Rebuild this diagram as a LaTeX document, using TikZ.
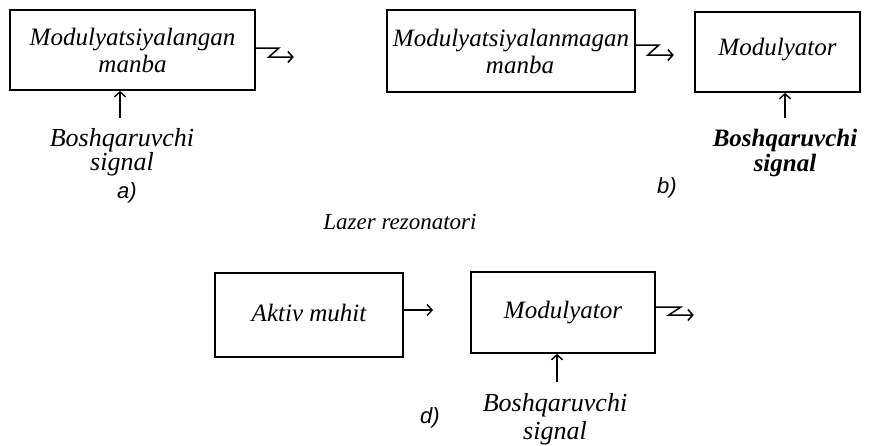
\documentclass[tikz,border=0pt]{standalone}
\usepackage{fontspec}
\setmainfont{Liberation Serif}
\newfontfamily\labfont{Liberation Sans}
\usetikzlibrary{arrows.meta}
\begin{document}
\begin{tikzpicture}[x=1pt,y=-1pt,
  box/.style={draw,line width=1.7pt,rectangle,inner sep=0pt,align=center,
    font=\fontsize{25}{27}\selectfont\itshape},
  txt/.style={inner sep=0pt,align=center,font=\fontsize{26}{24}\selectfont\itshape},
  lab/.style={inner sep=0pt,font=\fontsize{22}{24}\selectfont\labfont\itshape},
  arr/.style={line width=1.4pt,-{Straight Barb[length=5pt,width=11pt]}},
  zig/.style={line width=1.5pt,line join=miter,-{Straight Barb[length=5pt,width=11pt]}}]
\useasboundingbox (0,0) rectangle (882,445);
% a)
\node[box,minimum width=245pt,minimum height=80pt] (a) at (132.5,50) {Modulyatsiyalangan\\manba};
\draw[zig] ([yshift=2pt]a.east) -- ++(23,0) -- ++(-10,9) -- ++(25,0);
\node[txt] (sa) at (122,152) {Boshqaruvchi\\signal};
\coordinate (ta) at (120,118);
\draw[arr] (ta) -- (ta |- a.south);
\node[lab] (la) at (127,193) {a)};
% b)
\node[box,minimum width=248pt,minimum height=82pt] (b1) at (511,51) {Modulyatsiyalanmagan\\\hspace*{18pt}manba};
\draw[zig] ([yshift=6pt]b1.east) -- ++(23,0) -- ++(-11,10) -- ++(26,0);
\node[box,minimum width=165pt,minimum height=80pt] (b2) at (777.5,52) {\raisebox{10pt}{Modulyator}};
\node[txt,font=\fontsize{25}{25}\selectfont\bfseries\itshape] (sb) at (785,153) {Boshqaruvchi\\signal};
\coordinate (tb) at (785,118);
\draw[arr] (tb) -- (tb |- b2.south);
\node[lab] (lb) at (667,188) {b)};
% d)
\node[txt,font=\fontsize{23}{24}\selectfont\itshape] (lr) at (400,222) {Lazer rezonatori};
\node[box,minimum width=188pt,minimum height=84pt] (d1) at (309,315) {\raisebox{5pt}{Aktiv muhit}};
\node[box,minimum width=184pt,minimum height=81pt] (d2) at (563,312.5) {\raisebox{3pt}{Modulyator}};
\coordinate (e1) at (433,310);
\draw[arr] (d1.east |- e1) -- (e1);
\draw[zig] ([yshift=5.5pt]d2.east) -- ++(25,0) -- ++(-12,8) -- ++(25,0);
\node[txt,font=\fontsize{26}{28}\selectfont\itshape] (sd) at (555,419) {Boshqaruvchi\\signal};
\coordinate (td) at (557,382);
\draw[arr] (td) -- (td |- d2.south);
\node[lab] (ld) at (430,418) {d)};
\end{tikzpicture}
\end{document}
